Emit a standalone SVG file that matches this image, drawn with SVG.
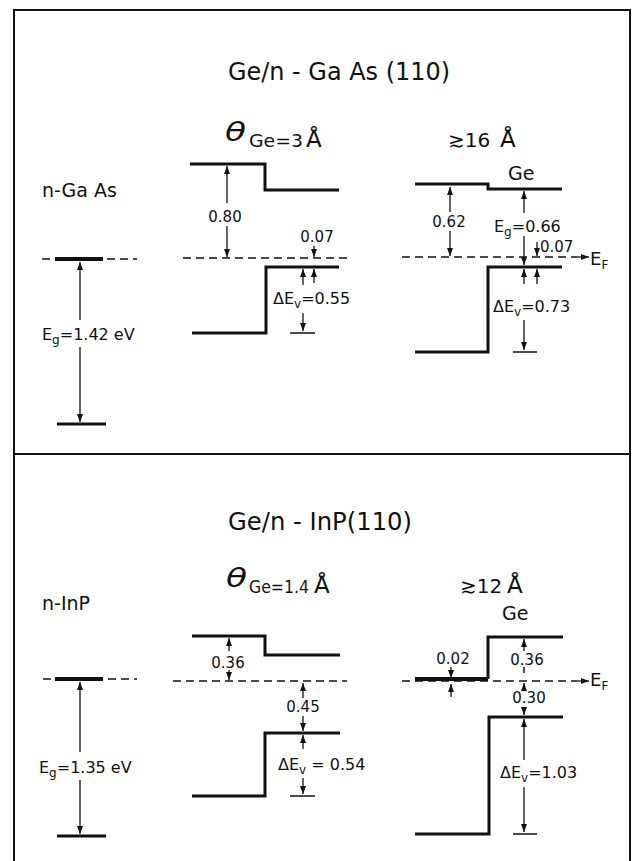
<svg xmlns="http://www.w3.org/2000/svg" width="637" height="861" viewBox="0 0 637 861">
<defs>
<marker id="ah" markerWidth="8" markerHeight="6" refX="8" refY="3" orient="auto" markerUnits="userSpaceOnUse">
<path d="M0,0 L8,3 L0,6 z" fill="#111"/>
</marker>
<style>
.band{fill:none;stroke:#111;stroke-width:3}
.ef{fill:none;stroke:#111;stroke-width:1.4;stroke-dasharray:8 5}
.ar{fill:none;stroke:#111;stroke-width:1.3;marker-end:url(#ah)}
.tk{fill:none;stroke:#111;stroke-width:1.5}
text{font-family:"DejaVu Sans","Liberation Sans",sans-serif;fill:#111}
.ti{font-size:25px}
.lb{font-size:19px}
.nm{font-size:15px}
.th{font-size:27px;font-style:italic}
</style>
</defs>
<rect x="14" y="10" width="616" height="870" fill="#fff" stroke="#111" stroke-width="2"/>
<line x1="14" y1="454" x2="630" y2="454" stroke="#111" stroke-width="2"/>

<g id="top-titles">
<text class="ti" x="228" y="80" textLength="222" lengthAdjust="spacingAndGlyphs">Ge/n - Ga As (110)</text>
<text class="th" x="225" y="141" textLength="21" lengthAdjust="spacingAndGlyphs">θ</text>
<text x="249" y="147" font-size="17" textLength="54" lengthAdjust="spacingAndGlyphs">Ge=3</text>
<text x="306" y="147" font-size="23">Å</text>
<text x="448" y="147" font-size="20">≳16</text>
<text x="500" y="147" font-size="23">Å</text>
</g>

<g id="n-GaAs">
<text class="lb" x="42" y="197">n-Ga As</text>
<line class="ef" x1="42" y1="259" x2="137" y2="259"/>
<line x1="55" y1="259" x2="103" y2="259" stroke="#111" stroke-width="4"/>
<line class="band" x1="57" y1="424" x2="106" y2="424"/>
<text x="42" y="340" font-size="16">E<tspan font-size="12" dy="4">g</tspan><tspan dy="-4">=1.42 eV</tspan></text>
</g>

<g id="GaAs-3A">
<path class="band" d="M190,164 H265 V190 H339"/>
<path class="band" d="M192,333 H266 V267 H339"/>
<line class="ef" x1="183" y1="258" x2="347" y2="258"/>
<text class="nm" x="225" y="222" text-anchor="middle">0.80</text>
<text class="nm" x="317" y="242" text-anchor="middle">0.07</text>
<text x="273" y="304" font-size="16">ΔE<tspan font-size="12" dy="4">v</tspan><tspan dy="-4">=0.55</tspan></text>
<line class="tk" x1="290" y1="333" x2="315" y2="333"/>
</g>

<g id="GaAs-16A">
<text class="lb" x="508" y="180">Ge</text>
<path class="band" d="M415,184 H488 V189 H562"/>
<path class="band" d="M415,352 H488 V267 H562"/>
<line class="ef" x1="402" y1="257" x2="577" y2="257"/>
<text class="nm" x="449" y="227" text-anchor="middle">0.62</text>
<text x="494" y="232" font-size="16">E<tspan font-size="12" dy="4">g</tspan><tspan dy="-4">=0.66</tspan></text>
<text class="nm" x="540" y="252">0.07</text>
<text x="590" y="265" font-size="18">E<tspan font-size="12" dy="4">F</tspan></text>
<text x="493" y="312" font-size="16">ΔE<tspan font-size="12" dy="4">v</tspan><tspan dy="-4">=0.73</tspan></text>
<line class="tk" x1="513" y1="352" x2="537" y2="352"/>
</g>

<g id="bottom-titles">
<text class="ti" x="228" y="530" textLength="184" lengthAdjust="spacingAndGlyphs">Ge/n - InP(110)</text>
<text class="th" x="226" y="587" textLength="21" lengthAdjust="spacingAndGlyphs">θ</text>
<text x="249" y="593" font-size="17" textLength="60" lengthAdjust="spacingAndGlyphs">Ge=1.4</text>
<text x="314" y="593" font-size="23">Å</text>
<text x="460" y="593" font-size="20">≳12</text>
<text x="507" y="593" font-size="23">Å</text>
</g>

<g id="n-InP">
<text class="lb" x="42" y="610">n-InP</text>
<line class="ef" x1="43" y1="679" x2="137" y2="679"/>
<line x1="55" y1="679" x2="103" y2="679" stroke="#111" stroke-width="4"/>
<line class="band" x1="57" y1="836" x2="106" y2="836"/>
<text x="39" y="773" font-size="16">E<tspan font-size="12" dy="4">g</tspan><tspan dy="-4">=1.35 eV</tspan></text>
</g>

<g id="InP-1.4A">
<path class="band" d="M192,636 H265 V655 H340"/>
<path class="band" d="M192,796 H265 V733 H340"/>
<line class="ef" x1="173" y1="681" x2="347" y2="681"/>
<text class="nm" x="228" y="668" text-anchor="middle">0.36</text>
<text class="nm" x="303" y="712" text-anchor="middle">0.45</text>
<text x="278" y="770" font-size="16">ΔE<tspan font-size="12" dy="4">v</tspan><tspan dy="-4"> = 0.54</tspan></text>
<line class="tk" x1="290" y1="796" x2="315" y2="796"/>
</g>

<g id="InP-12A">
<text class="lb" x="502" y="620">Ge</text>
<line class="ef" x1="402" y1="681" x2="577" y2="681"/>
<path d="M415,679 H488" stroke="#111" stroke-width="4" fill="none"/>
<path class="band" d="M488,679 V637 H563"/>
<path class="band" d="M415,834 H489 V717 H563"/>
<text class="nm" x="453" y="664" text-anchor="middle">0.02</text>
<text class="nm" x="527" y="665" text-anchor="middle">0.36</text>
<text class="nm" x="529" y="703" text-anchor="middle">0.30</text>
<text x="590" y="686" font-size="18">E<tspan font-size="12" dy="4">F</tspan></text>
<text x="500" y="778" font-size="16">ΔE<tspan font-size="12" dy="4">v</tspan><tspan dy="-4">=1.03</tspan></text>
<line class="tk" x1="513" y1="834" x2="537" y2="834"/>
</g>

<g id="connectors">
<line class="ar" x1="80" y1="320" x2="80" y2="262"/>
<line class="ar" x1="80" y1="347" x2="80" y2="422"/>
<line class="ar" x1="227" y1="203" x2="227" y2="166"/>
<line class="ar" x1="227" y1="226" x2="227" y2="257"/>
<line class="ar" x1="314" y1="246" x2="314" y2="257"/>
<line class="ar" x1="303" y1="285" x2="303" y2="269"/>
<line class="ar" x1="314" y1="283" x2="314" y2="269"/>
<line class="ar" x1="303" y1="313" x2="303" y2="331"/>
<line class="ar" x1="450" y1="212" x2="450" y2="187"/>
<line class="ar" x1="450" y1="231" x2="450" y2="256"/>
<line class="ar" x1="524" y1="213" x2="524" y2="191"/>
<line class="ar" x1="524" y1="236" x2="524" y2="265"/>
<line class="ar" x1="537" y1="242" x2="537" y2="256"/>
<line class="ar" x1="524" y1="284" x2="524" y2="269"/>
<line class="ar" x1="537" y1="284" x2="537" y2="269"/>
<line class="ar" x1="524" y1="320" x2="524" y2="350"/>
<line class="ar" x1="577" y1="257" x2="589" y2="257"/>
<line class="ar" x1="80" y1="752" x2="80" y2="682"/>
<line class="ar" x1="80" y1="780" x2="80" y2="834"/>
<line class="ar" x1="229" y1="651" x2="229" y2="638"/>
<line class="ar" x1="229" y1="670" x2="229" y2="680"/>
<line class="ar" x1="303" y1="698" x2="303" y2="683"/>
<line class="ar" x1="303" y1="716" x2="303" y2="731"/>
<line class="ar" x1="303" y1="749" x2="303" y2="735"/>
<line class="ar" x1="303" y1="778" x2="303" y2="794"/>
<line class="ar" x1="451" y1="667" x2="451" y2="678"/>
<line class="ar" x1="451" y1="697" x2="451" y2="684"/>
<line class="ar" x1="524" y1="651" x2="524" y2="639"/>
<line class="tk" x1="524" y1="667" x2="524" y2="673" stroke-width="1.2"/>
<line class="ar" x1="524" y1="691" x2="524" y2="683"/>
<line class="ar" x1="524" y1="707" x2="524" y2="715"/>
<line class="ar" x1="524" y1="760" x2="524" y2="719"/>
<line class="ar" x1="524" y1="787" x2="524" y2="832"/>
<line class="ar" x1="577" y1="681" x2="589" y2="681"/>
</g>
</svg>
